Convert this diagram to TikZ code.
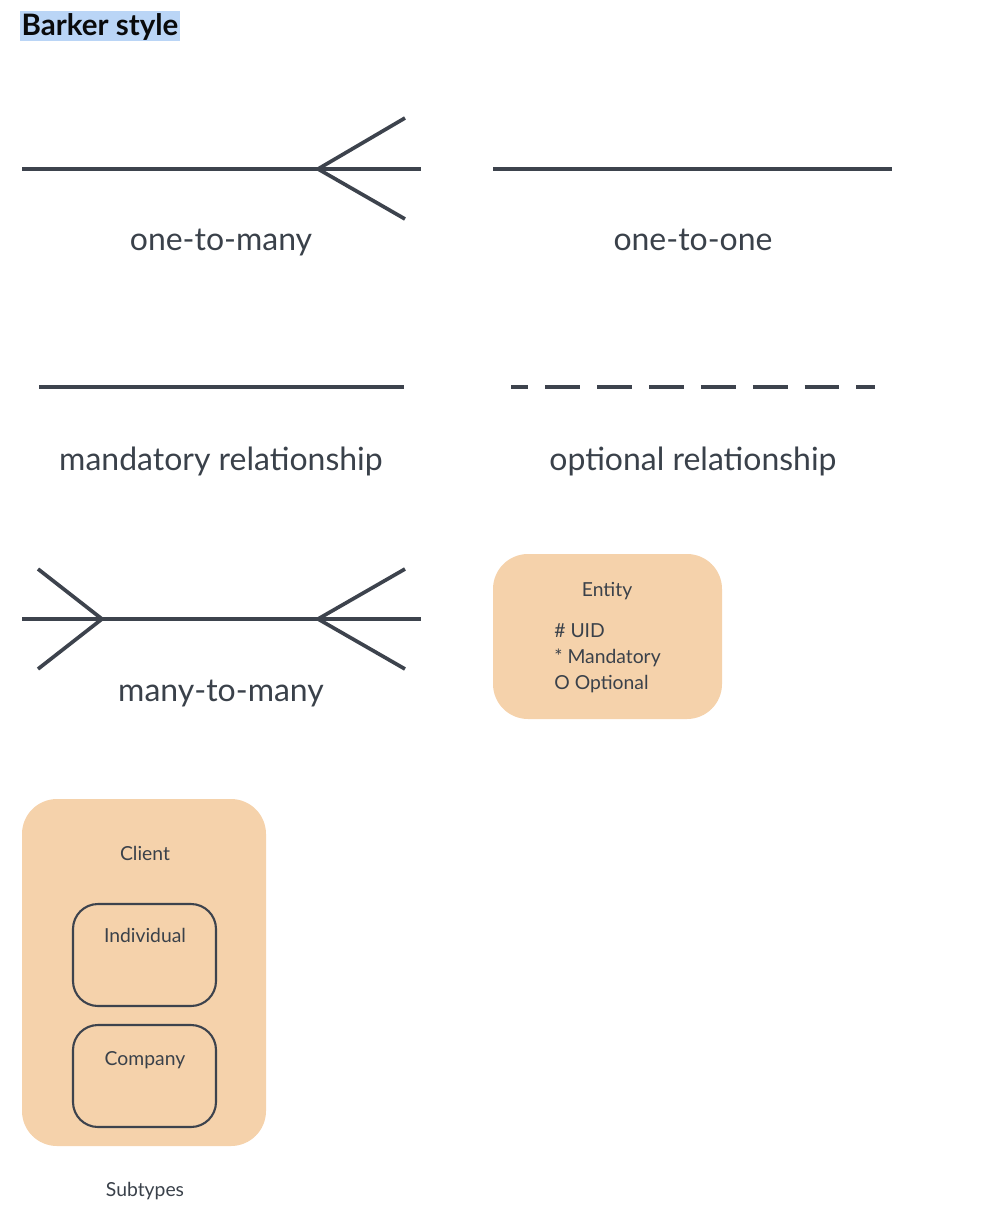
\documentclass[tikz,border=0pt]{standalone}
\usepackage{fontspec}
\setmainfont{Lato}
\definecolor{ink}{HTML}{3D434D}
\definecolor{txt}{HTML}{3A414A}
\definecolor{peach}{HTML}{F5D2AB}
\definecolor{hilite}{HTML}{BAD5F6}
\tikzset{
  rel/.style={line width=2.1pt, draw=ink},
  big/.style={text=txt, anchor=base, font=\fontsize{18.2}{21}\selectfont},
  small/.style={text=txt, anchor=base, font=\fontsize{11}{13}\selectfont},
  entbox/.style={fill=peach, draw=none, rounded corners=0.7cm},
  subbox/.style={draw=ink, line width=1.2pt, rounded corners=0.5cm}
}
\begin{document}
\begin{tikzpicture}[x=0.02cm,y=-0.02cm]
\useasboundingbox (0,0) rectangle (992,1226);
%\draw[step=50,gray,very thin] (0,0) grid (992,1226); %background grid
\fill[hilite] (20,11) rectangle (180,41);
\node[text=black!85!txt,font=\fontsize{16.8}{19}\bfseries\selectfont] (title) at (100,27) {Barker style};

% one-to-many
\draw[rel] (22,169) -- (421,169);
\draw[rel] (405,118) -- (318,169) -- (405,219); %crow
\node[big] (otm) at (221,251) {one-to-many};
% one-to-one
\draw[rel] (493,169) -- (892,169);
\node[big] (oto) at (693,251) {one-to-one};

% mandatory / optional
\draw[rel] (39,387) -- (404,387);
\node[big] (mand) at (221,470) {mandatory relationship};
\draw[rel,dash pattern=on 19.8pt off 9.7pt,dash phase=9.9pt] (511,387) -- (875,387);
\node[big] (opt) at (693,470) {optional relationship};

% many-to-many
\draw[rel] (22,619) -- (421,619);
\draw[rel] (38,569) -- (102,619) -- (38,669); %crow left
\draw[rel] (405,569) -- (318,619) -- (405,669); %crow right
\node[big] (mtm) at (221,701) {many-to-many};

% entity
\draw[entbox] (493,554) rectangle (722,719);
\node[small] (ent) at (607,596) {Entity};
\node[small,anchor=base west,inner sep=0] (uid) at (554,637) {\# UID};
\node[small,anchor=base west,inner sep=0] (man) at (554,663) {* Mandatory};
\node[small,anchor=base west,inner sep=0] (opt) at (554,689) {O Optional};

% subtypes
\draw[entbox] (22,799) rectangle (266,1146);
\node[small] (client) at (145,860) {Client};
\draw[subbox] (73,904) rectangle (216,1006);
\node[small] (indiv) at (145,942) {Individual};
\draw[subbox] (73,1025) rectangle (216,1127);
\node[small] (comp) at (145,1065) {Company};
\node[small] (sub) at (145,1196) {Subtypes};
\end{tikzpicture}
\end{document}
